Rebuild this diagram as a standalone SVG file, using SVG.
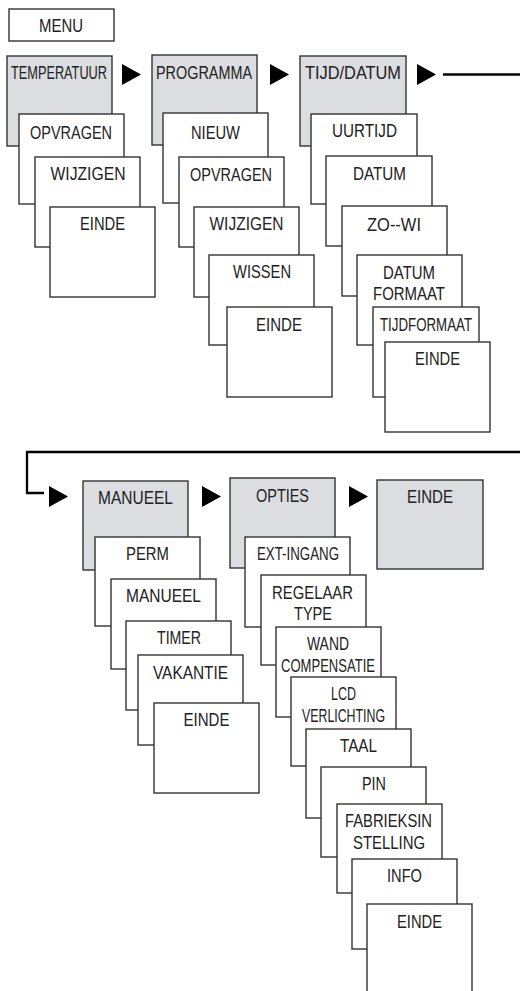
<svg xmlns="http://www.w3.org/2000/svg" width="520" height="991" viewBox="0 0 520 991">
<style>
rect{stroke:#333;stroke-width:1.4;fill:#fff}
rect.g{fill:#dcdde0}
text{font-family:"Liberation Sans",Arial,sans-serif;font-size:18px;fill:#222;text-anchor:middle}
.arr{fill:#000}
.ln{fill:none;stroke:#000;stroke-width:2.3}
</style>
<defs>
<polygon id="tri" points="0,0 19,10.5 0,21" class="arr"/>
</defs>
<rect x="0" y="0" width="520" height="991" style="fill:#fff;stroke:none"/>

<g id="menu"><rect x="9" y="9" width="105" height="32"/><text x="61" y="32" textLength="44" lengthAdjust="spacingAndGlyphs">MENU</text></g>

<g id="temperatuur"><rect class="g" x="7" y="56" width="105" height="90"/><text x="59" y="79" textLength="96" lengthAdjust="spacingAndGlyphs">TEMPERATUUR</text></g>
<g id="t-opvragen"><rect x="19" y="114" width="105" height="90"/><text x="71" y="139" textLength="82" lengthAdjust="spacingAndGlyphs">OPVRAGEN</text></g>
<g id="t-wijzigen"><rect x="35" y="157" width="105" height="90"/><text x="88" y="180" textLength="75" lengthAdjust="spacingAndGlyphs">WIJZIGEN</text></g>
<g id="t-einde"><rect x="50" y="207" width="105" height="90"/><text x="102.5" y="230" textLength="45" lengthAdjust="spacingAndGlyphs">EINDE</text></g>

<g id="programma"><rect class="g" x="152" y="55" width="105" height="90"/><text x="204" y="79" textLength="96" lengthAdjust="spacingAndGlyphs">PROGRAMMA</text></g>
<g id="p-nieuw"><rect x="163" y="113" width="105" height="90"/><text x="215.5" y="139" textLength="49" lengthAdjust="spacingAndGlyphs">NIEUW</text></g>
<g id="p-opvragen"><rect x="179" y="157" width="105" height="90"/><text x="231" y="181" textLength="82" lengthAdjust="spacingAndGlyphs">OPVRAGEN</text></g>
<g id="p-wijzigen"><rect x="194" y="207" width="105" height="90"/><text x="246.5" y="230" textLength="74" lengthAdjust="spacingAndGlyphs">WIJZIGEN</text></g>
<g id="p-wissen"><rect x="209" y="255" width="105" height="90"/><text x="262" y="278" textLength="58" lengthAdjust="spacingAndGlyphs">WISSEN</text></g>
<g id="p-einde"><rect x="227" y="307" width="105" height="90"/><text x="279" y="331" textLength="46" lengthAdjust="spacingAndGlyphs">EINDE</text></g>

<g id="tijd-datum"><rect class="g" x="300" y="56" width="106" height="90"/><text x="353" y="79" textLength="96" lengthAdjust="spacingAndGlyphs">TIJD/DATUM</text></g>
<g id="d-uurtijd"><rect x="311" y="114" width="106" height="90"/><text x="364.5" y="137" textLength="65" lengthAdjust="spacingAndGlyphs">UURTIJD</text></g>
<g id="d-datum"><rect x="326" y="156" width="106" height="90"/><text x="379.5" y="180" textLength="53" lengthAdjust="spacingAndGlyphs">DATUM</text></g>
<g id="d-zowi"><rect x="342" y="206" width="105" height="90"/><text x="394" y="231" textLength="54" lengthAdjust="spacingAndGlyphs">ZO--WI</text></g>
<g id="d-datumformaat"><rect x="357" y="255" width="105" height="90"/><text x="409" y="279" textLength="52" lengthAdjust="spacingAndGlyphs">DATUM</text><text x="409" y="300" textLength="72" lengthAdjust="spacingAndGlyphs">FORMAAT</text></g>
<g id="d-tijdformaat"><rect x="373" y="307" width="106" height="90"/><text x="426" y="331" textLength="92" lengthAdjust="spacingAndGlyphs">TIJDFORMAAT</text></g>
<g id="d-einde"><rect x="385" y="342" width="105" height="90"/><text x="437.5" y="365" textLength="45" lengthAdjust="spacingAndGlyphs">EINDE</text></g>

<g id="manueel"><rect class="g" x="83" y="481" width="105" height="89"/><text x="135.5" y="504" textLength="75" lengthAdjust="spacingAndGlyphs">MANUEEL</text></g>
<g id="m-perm"><rect x="95" y="537" width="105" height="89"/><text x="147.5" y="560" textLength="43" lengthAdjust="spacingAndGlyphs">PERM</text></g>
<g id="m-manueel"><rect x="111" y="579" width="105" height="90"/><text x="163.5" y="602" textLength="75" lengthAdjust="spacingAndGlyphs">MANUEEL</text></g>
<g id="m-timer"><rect x="126" y="621" width="105" height="89"/><text x="179" y="644" textLength="44" lengthAdjust="spacingAndGlyphs">TIMER</text></g>
<g id="m-vakantie"><rect x="138" y="655" width="105" height="90"/><text x="190.5" y="679" textLength="75" lengthAdjust="spacingAndGlyphs">VAKANTIE</text></g>
<g id="m-einde"><rect x="154" y="703" width="105" height="90"/><text x="206.5" y="726" textLength="46" lengthAdjust="spacingAndGlyphs">EINDE</text></g>

<g id="opties"><rect class="g" x="230" y="478" width="105" height="90"/><text x="282.5" y="502" textLength="53" lengthAdjust="spacingAndGlyphs">OPTIES</text></g>
<g id="o-extingang"><rect x="245" y="537" width="105" height="90"/><text x="298" y="560" textLength="82" lengthAdjust="spacingAndGlyphs">EXT-INGANG</text></g>
<g id="o-regelaar"><rect x="261" y="575" width="105" height="90"/><text x="312.5" y="599" textLength="81" lengthAdjust="spacingAndGlyphs">REGELAAR</text><text x="313" y="620" textLength="38" lengthAdjust="spacingAndGlyphs">TYPE</text></g>
<g id="o-wand"><rect x="276" y="627" width="105" height="90"/><text x="328" y="650" textLength="42" lengthAdjust="spacingAndGlyphs">WAND</text><text x="328" y="672" textLength="94" lengthAdjust="spacingAndGlyphs">COMPENSATIE</text></g>
<g id="o-lcd"><rect x="291" y="677" width="105" height="89"/><text x="343.5" y="700" textLength="25" lengthAdjust="spacingAndGlyphs">LCD</text><text x="343.5" y="722" textLength="83" lengthAdjust="spacingAndGlyphs">VERLICHTING</text></g>
<g id="o-taal"><rect x="306" y="729" width="105" height="89"/><text x="358.5" y="752" textLength="37" lengthAdjust="spacingAndGlyphs">TAAL</text></g>
<g id="o-pin"><rect x="321" y="767" width="105" height="90"/><text x="374" y="790" textLength="24" lengthAdjust="spacingAndGlyphs">PIN</text></g>
<g id="o-fabrieks"><rect x="337" y="804" width="105" height="89"/><text x="388.5" y="827" textLength="87" lengthAdjust="spacingAndGlyphs">FABRIEKSIN</text><text x="389" y="849" textLength="72" lengthAdjust="spacingAndGlyphs">STELLING</text></g>
<g id="o-info"><rect x="352" y="859" width="105" height="90"/><text x="404.5" y="882" textLength="35" lengthAdjust="spacingAndGlyphs">INFO</text></g>
<g id="o-einde"><rect x="367" y="904" width="105" height="92"/><text x="419.5" y="928" textLength="45" lengthAdjust="spacingAndGlyphs">EINDE</text></g>

<g id="einde"><rect class="g" x="377" y="480" width="106" height="89"/><text x="430" y="503" textLength="46" lengthAdjust="spacingAndGlyphs">EINDE</text></g>

<g id="connectors">
<use href="#tri" x="122" y="64"/>
<use href="#tri" x="270" y="64"/>
<use href="#tri" x="417" y="64"/>
<path class="ln" d="M443,74.5 H520"/>
<path class="ln" d="M520,452 H27 V493 H44"/>
<use href="#tri" x="49" y="486"/>
<use href="#tri" x="202" y="486"/>
<use href="#tri" x="349" y="486"/>
</g>
</svg>
